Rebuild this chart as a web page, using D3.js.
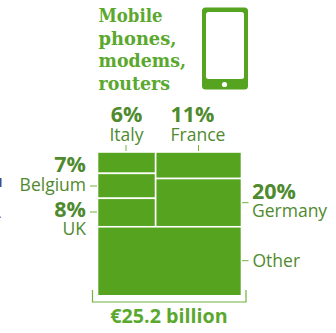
<!DOCTYPE html>
<html><head><meta charset="utf-8">
<script src="https://cdn.jsdelivr.net/npm/d3@7"></script>
<style>
html,body{margin:0;padding:0;background:#fff}
svg{display:block}
text{font-family:"Open Sans",sans-serif}
</style></head><body>
<svg id="c" width="336" height="333"></svg>
<script>
// Export shares in percent, grouped by treemap column
const leftColumn = ["Italy", "Belgium", "UK"];
const leftValues = [6, 7, 8];
const rightColumn = ["France", "Germany"];
const rightValues = [11, 20];
const otherLabel = "Other";
const otherValue = 48;
const titleLines = ["Mobile", "phones,", "modems,", "routers"];
const totalLabel = "€25.2 billion";

const GREEN = "#55a31e", TEXT = "#4f8a2e", TITLE = "#5aa82e";
const svg = d3.select("#c");

const sum = d3.sum;
const topShare = sum(leftValues) + sum(rightValues);
const x = d3.scaleLinear().domain([0, 1]).range([97.5, 241.5]);
const y = d3.scaleLinear().domain([0, topShare + otherValue]).range([152, 295.8]);

// One rectangle per country, stacked inside its column
function column(names, values, x0, x1) {
  const total = sum(values);
  let acc = 0;
  return names.map((name, i) => {
    const d = {name, x0, x1, y0: y(acc / total * topShare), y1: y((acc + values[i]) / total * topShare)};
    acc += values[i];
    return d;
  });
}
const split = sum(leftValues) / topShare;
const cells = [
  ...column(leftColumn, leftValues, 0, split),
  ...column(rightColumn, rightValues, split, 1),
  {name: otherLabel, x0: 0, x1: 1, y0: y(topShare), y1: y(topShare + otherValue)}
];
svg.selectAll("rect.cell").data(cells).join("rect").attr("class", "cell")
  .attr("x", d => x(d.x0)).attr("width", d => x(d.x1) - x(d.x0))
  .attr("y", d => d.y0).attr("height", d => d.y1 - d.y0)
  .attr("fill", GREEN).attr("stroke", "#fff").attr("stroke-width", 1.6);

// Title
svg.append("g").selectAll("text").data(titleLines).join("text")
  .attr("x", 98.5).attr("y", (d, i) => 22.3 + i * 22.5)
  .attr("font-size", 19).attr("font-weight", 700).attr("fill", TITLE)
  .style("font-family", "'DejaVu Serif',serif").attr("textLength", (d, i) => [64, 78, 87.5, 71.5][i]).attr("lengthAdjust", "spacingAndGlyphs")
  .text(d => d);

// Phone icon
const icon = svg.append("g");
icon.append("rect").attr("x", 202).attr("y", 7.5).attr("width", 46).attr("height", 82).attr("rx", 3.5).attr("fill", GREEN);
icon.append("rect").attr("x", 206).attr("y", 12).attr("width", 38).attr("height", 67).attr("rx", 2.5).attr("fill", "#fff");
icon.append("circle").attr("cx", 224.5).attr("cy", 84.5).attr("r", 2.6).attr("fill", "#fff");

// Value and name labels
const labels = [
  {pct: leftValues[0], name: leftColumn[0], px: 126.5, py: 122, ny: 140.5, anchor: "middle"},
  {pct: rightValues[0], name: rightColumn[0], px: 170.5, py: 122, ny: 140.5, anchor: "start"},
  {pct: leftValues[1], name: leftColumn[1], px: 86, py: 171.7, ny: 190.5, anchor: "end"},
  {pct: leftValues[2], name: leftColumn[2], px: 86, py: 217, ny: 235, anchor: "end"},
  {pct: rightValues[1], name: rightColumn[1], px: 252, py: 199, ny: 216.5, anchor: "start"}
];
const lab = svg.append("g");
lab.selectAll("text.pct").data(labels).join("text").attr("class", "pct")
  .attr("x", d => d.px).attr("y", d => d.py).attr("text-anchor", d => d.anchor)
  .attr("font-size", 21.5).attr("font-weight", 700).attr("fill", TEXT).text(d => d.pct + "%");
lab.selectAll("text.name").data(labels).join("text").attr("class", "name")
  .attr("x", d => d.px).attr("y", d => d.ny).attr("text-anchor", d => d.anchor)
  .attr("font-size", 17.5).attr("fill", TEXT).text(d => d.name);
lab.append("text").attr("x", 252.5).attr("y", 266.5).attr("font-size", 17.5).attr("fill", TEXT).text(otherLabel);

// Leader ticks
const ticks = [[126, 145, 126, 151], [198.5, 145, 198.5, 151], [90, 186, 97, 186], [90, 212, 97, 212], [242, 202.7, 248.5, 202.7], [242, 260.7, 248.5, 260.7]];
svg.append("g").selectAll("line").data(ticks).join("line")
  .attr("x1", d => d[0]).attr("y1", d => d[1]).attr("x2", d => d[2]).attr("y2", d => d[3])
  .attr("stroke", "#6fb23c").attr("stroke-width", 1);

// Total bracket
svg.append("path").attr("d", "M92.5 290V302H246V290").attr("fill", "none").attr("stroke", "#6fb23c").attr("stroke-width", 1.2);
svg.append("text").attr("x", 169).attr("y", 322.7).attr("text-anchor", "middle")
  .attr("font-size", 19.7).attr("font-weight", 700).attr("fill", TITLE).text(totalLabel);

// Clipped fragments of neighbouring content at the left edge
svg.append("rect").attr("x", 0).attr("y", 178).attr("width", 1.5).attr("height", 9).attr("fill", "#2f5597");
svg.append("rect").attr("x", 0).attr("y", 216.5).attr("width", 1).attr("height", 1.5).attr("fill", "#6f8fc0");
</script></body></html>
